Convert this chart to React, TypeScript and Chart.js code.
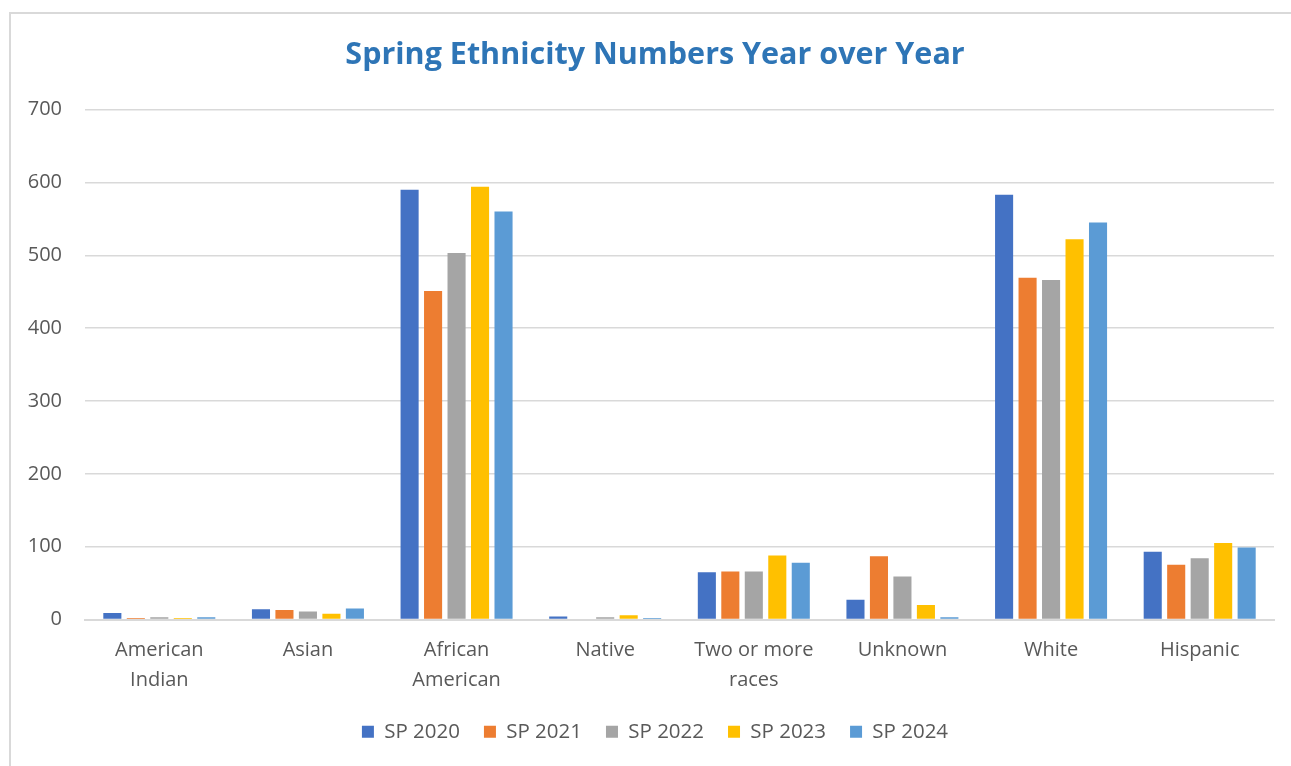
import React, { useEffect, useRef } from "react";
import { Chart, registerables } from "chart.js";

Chart.register(...registerables);

const categories: (string | string[])[] = [
  ["American", "Indian"],
  "Asian",
  ["African", "American"],
  "Native",
  ["Two or more", "races"],
  "Unknown",
  "White",
  "Hispanic",
];

const seriesNames = ["SP 2020", "SP 2021", "SP 2022", "SP 2023", "SP 2024"];
const sp2020 = [9, 14, 590, 4, 65, 27, 583, 93];
const sp2021 = [2, 13, 451, 1, 66, 87, 469, 75];
const sp2022 = [3, 11, 503, 3, 66, 59, 466, 84];
const sp2023 = [2, 8, 594, 6, 88, 20, 522, 105];
const sp2024 = [3, 15, 560, 2, 78, 3, 545, 99];
const seriesColors = ["#4472C4", "#ED7D31", "#A5A5A5", "#FFC000", "#5B9BD5"];
const titleText = "Spring Ethnicity Numbers Year over Year";

const FONT = "'Open Sans', 'Noto Sans', sans-serif";
const TEXT = "#595959";
const GRID = "#d9d9d9";

// widen the y-axis label clip area so labels can sit left of the padded box
const unclipYLabels = {
  id: "unclipYLabels",
  afterLayout(chart: any) {
    if (chart.scales && chart.scales.y) chart.scales.y.left = 0;
  },
};

export default function App() {
  const ref = useRef<HTMLCanvasElement | null>(null);

  useEffect(() => {
    if (!ref.current) return;
    const allSeries = [sp2020, sp2021, sp2022, sp2023, sp2024];
    const chart = new Chart(ref.current, {
      type: "bar",
      data: {
        labels: categories,
        datasets: allSeries.map((d, i) => ({
          label: seriesNames[i],
          data: d,
          backgroundColor: seriesColors[i],
          borderWidth: 0,
          categoryPercentage: 0.79,
          barPercentage: 0.77,
        })),
      },
      plugins: [unclipYLabels],
      options: {
        responsive: false,
        animation: false,
        layout: { padding: { left: 36, right: 17, top: 0, bottom: 14 } },
        plugins: {
          title: {
            display: true,
            text: titleText,
            color: "#2E75B6",
            font: { family: FONT, size: 30.5, weight: "bold", lineHeight: 1.2 },
            padding: { top: 37, bottom: 36 },
          },
          legend: {
            position: "bottom",
            labels: {
              color: TEXT,
              font: { family: FONT, size: 20.5 },
              boxWidth: 12,
              boxHeight: 12,
              padding: 24,
            },
          },
          tooltip: { enabled: false },
        },
        scales: {
          x: {
            grid: { display: false, drawTicks: false },
            border: { display: true, color: GRID, width: 2 },
            ticks: {
              color: TEXT,
              font: { family: FONT, size: 20, lineHeight: 1.5 },
              padding: 16,
              maxRotation: 0,
              autoSkip: false,
            },
            afterFit: (scale: any) => {
              scale.height = 78;
            },
          },
          y: {
            min: 0,
            max: 700,
            ticks: {
              stepSize: 100,
              color: TEXT,
              font: { family: FONT, size: 20 },
              padding: 23,
            },
            grid: { color: GRID, lineWidth: 1.5, drawTicks: false },
            border: { display: false },
            afterFit: (scale: any) => {
              scale.width = 49;
            },
          },
        },
      },
    });
    return () => chart.destroy();
  }, []);

  return (
    <div
      style={{
        position: "fixed",
        left: 0,
        top: 0,
        width: 1291,
        height: 766,
        background: "#fff",
        overflow: "hidden",
      }}
    >
      <div
        style={{
          position: "absolute",
          left: 9,
          top: 12,
          width: 1300,
          height: 800,
          borderLeft: "2px solid #d9d9d9",
          borderTop: "2px solid #d9d9d9",
        }}
      />
      <canvas
        ref={ref}
        width={1291}
        height={766}
        style={{ position: "absolute", left: 0, top: 0 }}
      />
    </div>
  );
}
